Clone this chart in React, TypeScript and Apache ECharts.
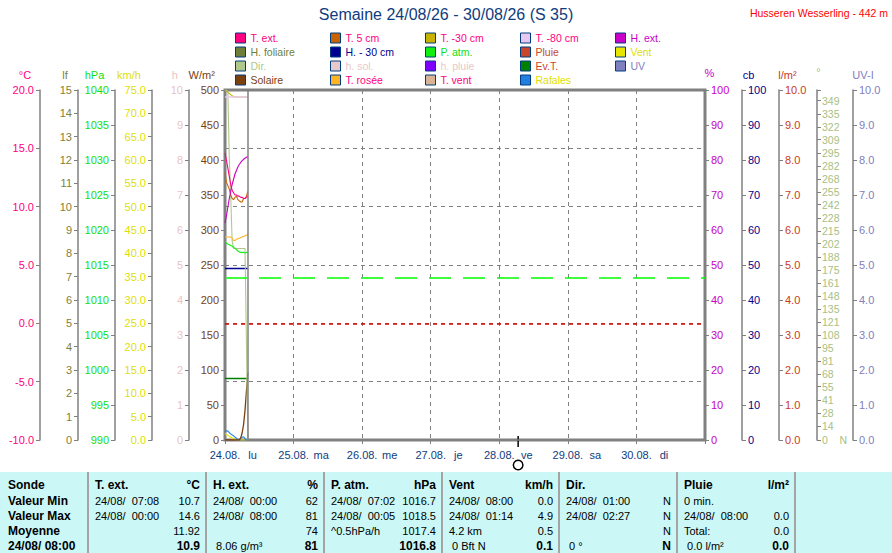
import React, { useEffect, useRef } from 'react';
import * as echarts from 'echarts';

const FONT = '"Liberation Sans", Arial, Helvetica, sans-serif';
const GRAY = '#808080';
const BLUE = '#0f3c7d';

// ---------- data ----------
// time in hours since 24.08. 00:00
const HOURS = [0, 0.5, 1, 1.5, 2, 2.5, 3, 3.5, 4, 4.5, 5, 5.5, 6, 6.5, 7, 7.5, 8];
const T_EXT = [14.6, 14.0, 13.3, 12.6, 11.9, 11.4, 11.2, 11.0, 11.0, 10.9, 10.9, 10.8, 10.8, 10.7, 10.7, 10.8, 10.9];
const T_5CM = [12.9, 12.1, 11.8, 11.5, 11.0, 10.7, 10.6, 10.8, 10.9, 10.6, 10.5, 10.4, 10.4, 10.7, 10.7, 10.9, 11.3];
const T_M30 = [20.0, 19.9, 19.8, 19.7, 19.6, 19.5, 19.45, 19.4, 19.4, 19.4, 19.4, 19.4, 19.4, 19.4, 19.4, 19.4, 19.4];
const T_M80 = [19.4, 19.4, 19.4, 19.4, 19.4, 19.4, 19.4, 19.4, 19.4, 19.4, 19.4, 19.4, 19.4, 19.4, 19.4, 19.4, 19.4];
const T_ROSEE = [7.4, 7.4, 7.4, 7.4, 7.4, 7.3, 7.1, 7.1, 7.2, 7.25, 7.3, 7.35, 7.4, 7.45, 7.5, 7.55, 7.65];
const H_EXT = [62, 64, 66.5, 69, 71, 73, 74.5, 76, 77, 78, 78.7, 79.3, 79.8, 80.2, 80.5, 80.8, 81];
const H_M30 = [49, 49, 49, 49, 49, 49, 49, 49, 49, 49, 49, 49, 49, 49, 49, 49, 49];
const P_ATM = [1018.4, 1018.1, 1018.0, 1017.9, 1017.8, 1017.7, 1017.5, 1017.4, 1017.2, 1017.0, 1016.9, 1016.8, 1016.8, 1016.8, 1016.7, 1016.8, 1016.8];
const EV_T = [1.76, 1.76, 1.76, 1.76, 1.76, 1.76, 1.76, 1.76, 1.76, 1.76, 1.76, 1.76, 1.76, 1.76, 1.76, 1.76, 1.76];
const VENT = [1.4, 1.2, 1.0, 0.8, 0.6, 0.45, 0.3, 0.1, 0, 0, 0, 0, 0, 0, 0, 0, 0.1];
const RAFALES = [1.8, 2.0, 1.9, 1.6, 1.3, 1.1, 0.9, 0.6, 0.4, 0.1, 0, 0.4, 0.6, 0.7, 0.3, 0, 0];
const DIR = [360, 360, 358, 290, 250, 205, 197, 197, 197, 197, 197, 197, 197, 197, 197, 100, 0];
const SOLAIRE = [0, 0, 0, 0, 0, 0, 0, 0, 0, 0, 0, 3, 10, 22, 42, 70, 96];
const EMPTY: number[] = [];

const DAY_DATES = ['24.08.', '25.08.', '26.08.', '27.08.', '28.08.', '29.08.', '30.08.'];
const DAY_NAMES = ['lu', 'ma', 'me', 'je', 've', 'sa', 'di'];
const DIR_TICKS = [0, 14, 28, 41, 55, 68, 81, 95, 108, 121, 135, 148, 161, 175, 188, 202, 215, 228, 242, 255, 268, 282, 295, 309, 322, 335, 349];
const STD_PRESSURE = 1013.25;
const FREEZING = 0;
const LAST_HOUR = 8;
const MARKER_HOUR = 102.6;

const TITLE = 'Semaine 24/08/26 - 30/08/26 (S 35)';
const STATION = 'Husseren Wesserling - 442 m';

const TABLE_ROW_LABELS = ['Sonde', 'Valeur Min', 'Valeur Max', 'Moyenne', '24/08/ 08:00'];
const TABLE_LEFT = [
  ['T. ext.', '24/08/\u00a0\u00a007:08', '24/08/\u00a0\u00a000:00', '', ''],
  ['H. ext.', '24/08/\u00a0\u00a000:00', '24/08/\u00a0\u00a008:00', '', '\u00a08.06 g/m³'],
  ['P. atm.', '24/08/\u00a0\u00a007:02', '24/08/\u00a0\u00a000:05', '^0.5hPa/h', ''],
  ['Vent', '24/08/\u00a0\u00a008:00', '24/08/\u00a0\u00a001:14', '4.2 km', '\u00a00 Bft N'],
  ['Dir.', '24/08/\u00a0\u00a001:00', '24/08/\u00a0\u00a002:27', '', '\u00a00 °'],
  ['Pluie', '0 min.', '24/08/\u00a0\u00a008:00', 'Total:', '\u00a00.0 l/m²'],
];
const TABLE_RIGHT = [
  ['°C', '10.7', '14.6', '11.92', '10.9'],
  ['%', '62', '81', '74', '81'],
  ['hPa', '1016.7', '1018.5', '1017.4', '1016.8'],
  ['km/h', '0.0', '4.9', '0.5', '0.1'],
  ['', 'N', 'N', 'N', 'N'],
  ['l/m²', '', '0.0', '0.0', '0.0'],
];

// ---------- styles ----------
const STYLE: Record<string, { c: string; t: string; w?: number }> = {
  'T. ext.': { c: '#ff0080', t: '#ff0080' },
  'T. 5 cm': { c: '#c86400', t: '#ff0080' },
  'T. -30 cm': { c: '#c8b400', t: '#ff0080' },
  'T. -80 cm': { c: '#e8c8f0', t: '#ff0080', w: 1.5 },
  'H. ext.': { c: '#c800c8', t: '#c800c8' },
  'H. foliaire': { c: '#6e7f3a', t: '#6e7f3a' },
  'H. - 30 cm': { c: '#000090', t: '#000090', w: 1.5 },
  'P. atm.': { c: '#10f010', t: '#10e010' },
  'Pluie': { c: '#c8462c', t: '#c8462c' },
  'Vent': { c: '#e6e600', t: '#e0e000' },
  'Dir.': { c: '#b0c88a', t: '#b0c88a' },
  'h. sol.': { c: '#e8c8c8', t: '#e8c8c8' },
  'h. pluie': { c: '#8000ff', t: '#e8c8c8' },
  'Ev.T.': { c: '#008000', t: '#c8462c', w: 1.5 },
  'UV': { c: '#8080c0', t: '#8080c0' },
  'Solaire': { c: '#7a4010', t: '#7a4010', w: 1.3 },
  'T. rosée': { c: '#ffb428', t: '#ff0080' },
  'T. vent': { c: '#d8b494', t: '#ff0080' },
  'Rafales': { c: '#2080e0', t: '#e0e000' },
};

const LEGEND_COLUMNS = [
  ['T. ext.', 'H. foliaire', 'Dir.', 'Solaire'],
  ['T. 5 cm', 'H. - 30 cm', 'h. sol.', 'T. rosée'],
  ['T. -30 cm', 'P. atm.', 'h. pluie', 'T. vent'],
  ['T. -80 cm', 'Pluie', 'Ev.T.', 'Rafales'],
  ['H. ext.', 'Vent', 'UV'],
];

// y axis indices
const AX = { wm2: 0, h: 1, kmh: 2, hpa: 3, lf: 4, c: 5, pct: 6, cb: 7, lm2: 8, deg: 9, uv: 10 };

const SERIES_DEFS: { name: string; data: number[]; axis: number }[] = [
  { name: 'H. foliaire', data: EMPTY, axis: AX.lf },
  { name: 'Pluie', data: EMPTY, axis: AX.lm2 },
  { name: 'h. sol.', data: EMPTY, axis: AX.h },
  { name: 'h. pluie', data: EMPTY, axis: AX.h },
  { name: 'UV', data: EMPTY, axis: AX.uv },
  { name: 'T. vent', data: EMPTY, axis: AX.c },
  { name: 'Ev.T.', data: EV_T, axis: AX.lm2 },
  { name: 'H. - 30 cm', data: H_M30, axis: AX.cb },
  { name: 'Vent', data: VENT, axis: AX.kmh },
  { name: 'Rafales', data: RAFALES, axis: AX.kmh },
  { name: 'Solaire', data: SOLAIRE, axis: AX.wm2 },
  { name: 'Dir.', data: DIR, axis: AX.deg },
  { name: 'T. -30 cm', data: T_M30, axis: AX.c },
  { name: 'T. -80 cm', data: T_M80, axis: AX.c },
  { name: 'P. atm.', data: P_ATM, axis: AX.hpa },
  { name: 'T. rosée', data: T_ROSEE, axis: AX.c },
  { name: 'T. 5 cm', data: T_5CM, axis: AX.c },
  { name: 'H. ext.', data: H_EXT, axis: AX.pct },
  { name: 'T. ext.', data: T_EXT, axis: AX.c },
];

const fmt1 = (v: number) => v.toFixed(1);
const fmt0 = (v: number) => String(Math.round(v));

function yAxis(position: 'left' | 'right', offset: number, min: number, max: number, interval: number, color: string, formatter: (v: number) => string, extra: any = {}) {
  return {
    type: 'value',
    position,
    offset,
    min,
    max,
    interval,
    axisLine: { show: true, lineStyle: { color: GRAY, width: 1.5 } },
    axisTick: { show: true, length: 4, lineStyle: { color: GRAY } },
    splitLine: { show: false },
    axisLabel: { color, fontSize: 11, fontFamily: FONT, margin: 6, formatter, showMinLabel: true, showMaxLabel: true },
    ...extra,
  };
}

function buildOption() {
  const series = SERIES_DEFS.map((d) => {
    const st = STYLE[d.name];
    const s: any = {
      type: 'line',
      name: d.name,
      yAxisIndex: d.axis,
      showSymbol: false,
      symbol: 'none',
      data: d.data.map((v, i) => [HOURS[i], v]),
      lineStyle: { color: st.c, width: st.w ?? 1.1 },
      itemStyle: { color: st.c },
      emphasis: { disabled: true },
    };
    if (d.name === 'T. ext.') {
      s.markLine = {
        silent: true,
        symbol: ['none', 'none'],
        label: { show: false },
        data: [
          { yAxis: FREEZING, lineStyle: { color: '#e00000', type: [4, 4], width: 1.5 } },
          { xAxis: LAST_HOUR, lineStyle: { color: GRAY, type: 'solid', width: 1.5 } },
        ],
      };
    }
    if (d.name === 'P. atm.') {
      s.markLine = {
        silent: true,
        symbol: ['none', 'none'],
        label: { show: false },
        data: [{ yAxis: STD_PRESSURE, lineStyle: { color: '#00ff00', type: [22, 12], width: 1.5 } }],
      };
    }
    return s;
  });

  const legend = LEGEND_COLUMNS.map((col, ci) => ({
    orient: 'vertical',
    left: 235 + ci * 95,
    top: 31,
    padding: 0,
    itemGap: 0,
    itemWidth: 10,
    itemHeight: 10,
    icon: 'rect',
    selectedMode: false,
    textStyle: { fontSize: 10.5, fontFamily: FONT, lineHeight: 14 },
    data: col.map((n) => ({
      name: n,
      icon: 'rect',
      itemStyle: { color: STYLE[n].c, borderColor: '#003c80', borderWidth: 1 },
      textStyle: { color: STYLE[n].t, fontSize: 10.5, fontFamily: FONT, lineHeight: 14 },
    })),
  }));

  return {
    animation: false,
    backgroundColor: '#ffffff',
    title: [
      { text: TITLE, left: 'center', top: 6, padding: 0, textStyle: { color: BLUE, fontSize: 16, fontWeight: 'normal', fontFamily: FONT } },
      { text: STATION, right: 4, top: 7, padding: 0, textStyle: { color: '#ff0000', fontSize: 10.5, fontWeight: 'normal', fontFamily: FONT } },
    ],
    legend,
    grid: { left: 225, right: 187, top: 90, bottom: 113, show: true, borderColor: GRAY, borderWidth: 3, backgroundColor: 'transparent' },
    xAxis: {
      type: 'value',
      min: 0,
      max: 168,
      interval: 24,
      axisLine: { show: true, lineStyle: { color: GRAY, width: 1.5 } },
      axisTick: { show: true, length: 4, lineStyle: { color: GRAY } },
      splitLine: { show: true, lineStyle: { color: GRAY, type: [4, 4], width: 1 } },
      axisLabel: {
        margin: 9,
        showMinLabel: true,
        showMaxLabel: true,
        hideOverlap: false,
        formatter: (v: number) => {
          const i = Math.round(v / 24);
          if (i >= DAY_DATES.length) return '';
          return `{s|\u00a0}{d|${DAY_DATES[i]}}{w|\u00a0\u00a0${DAY_NAMES[i]}}`;
        },
        rich: {
          s: { width: 19, fontSize: 11, fontFamily: FONT, color: BLUE },
          d: { width: 30, align: 'center', fontSize: 11, fontFamily: FONT, color: BLUE },
          w: { width: 19, align: 'left', fontSize: 11, fontFamily: FONT, color: BLUE },
        },
      },
    },
    yAxis: [
      yAxis('left', 0, 0, 500, 50, '#7a4010', fmt0),
      yAxis('left', 36, 0, 10, 1, '#e8c4c4', fmt0),
      yAxis('left', 73, 0, 75, 5, '#e0e000', fmt1),
      yAxis('left', 110, 990, 1040, 5, '#10e010', fmt0),
      yAxis('left', 147, 0, 15, 1, '#7f7f3a', fmt0),
      yAxis('left', 185, -10, 20, 5, '#ff0080', fmt1, {
        splitLine: { show: true, lineStyle: { color: GRAY, type: [4, 4], width: 1 } },
      }),
      yAxis('right', 0, 0, 100, 10, '#c800c8', fmt0),
      yAxis('right', 37, 0, 100, 10, '#000090', fmt0),
      yAxis('right', 74, 0, 10, 1, '#c83c20', fmt1),
      {
        type: 'value',
        position: 'right',
        offset: 112,
        min: 0,
        max: 360,
        axisLine: { show: true, lineStyle: { color: GRAY, width: 1.5 } },
        axisTick: { show: true, length: 4, lineStyle: { color: GRAY }, customValues: [...DIR_TICKS, 360] },
        splitLine: { show: false },
        axisLabel: {
          color: '#a8c084',
          fontSize: 10.5,
          fontFamily: FONT,
          margin: 5,
          customValues: DIR_TICKS,
          formatter: (v: number) => (v === 0 ? '0\u00a0\u00a0\u00a0\u00a0N' : String(v)),
        },
      },
      yAxis('right', 148, 0, 10, 1, '#8080c0', fmt1),
    ],
    series,
  };
}

const UNIT_LABELS = [
  { text: '°C', x: 25, y: 75, color: '#ff0080' },
  { text: 'lf', x: 65, y: 75, color: '#7f7f3a' },
  { text: 'hPa', x: 94.5, y: 75, color: '#10e010' },
  { text: 'km/h', x: 129, y: 75, color: '#e0e000' },
  { text: 'h', x: 174.7, y: 75, color: '#e8c4c4' },
  { text: 'W/m²', x: 201.7, y: 75, color: '#7a4010' },
  { text: '%', x: 709.5, y: 73, color: '#c800c8' },
  { text: 'cb', x: 748.5, y: 75, color: '#000090' },
  { text: 'l/m²', x: 787.5, y: 75, color: '#c83c20' },
  { text: '°', x: 818.5, y: 72, color: '#a8c084' },
  { text: 'UV-I', x: 863, y: 75, color: '#8080c0' },
];

const TABLE_TOP = 472;
const TABLE_BG = '#cbf8f7';
const SEP_X = [88, 206, 324, 442, 559, 677, 795];
const ROW_Y = [485, 500.5, 516, 531, 546];

function txt(x: number, y: number, text: string, color: string, size: number, bold: boolean, align: string) {
  return {
    type: 'text',
    x,
    y,
    silent: true,
    style: {
      text,
      fill: color,
      fontSize: size,
      fontWeight: bold ? 'bold' : 'normal',
      fontFamily: FONT,
      align,
      verticalAlign: 'middle',
      textAlign: align,
      textVerticalAlign: 'middle',
    },
  };
}

function buildGraphic(markerX: number) {
  const els: any[] = [];
  UNIT_LABELS.forEach((u) => els.push(txt(u.x, u.y, u.text, u.color, 11, false, 'center')));
  els.push({ type: 'line', silent: true, shape: { x1: markerX, y1: 436, x2: markerX, y2: 447 }, style: { stroke: '#000', lineWidth: 1.5 } });
  els.push({ type: 'circle', silent: true, shape: { cx: markerX, cy: 465, r: 4.8 }, style: { fill: 'none', stroke: '#000', lineWidth: 1.5 } });
  els.push({ type: 'rect', silent: true, z: -1, shape: { x: 0, y: TABLE_TOP, width: 892, height: 553 - TABLE_TOP }, style: { fill: TABLE_BG } });
  SEP_X.forEach((x) =>
    els.push({ type: 'line', silent: true, shape: { x1: x, y1: TABLE_TOP, x2: x, y2: 553 }, style: { stroke: '#a4a4a4', lineWidth: 2 } })
  );
  TABLE_ROW_LABELS.forEach((t, r) => els.push(txt(8, ROW_Y[r], t, '#000', 12, true, 'left')));
  TABLE_LEFT.forEach((col, c) => {
    col.forEach((t, r) => {
      if (t) els.push(txt(SEP_X[c] + 7, ROW_Y[r], t, '#000', r === 0 ? 12 : 11, r === 0, 'left'));
    });
  });
  TABLE_RIGHT.forEach((col, c) => {
    col.forEach((t, r) => {
      if (t) els.push(txt(SEP_X[c + 1] - 6, ROW_Y[r], t, '#000', r === 0 || r === 4 ? 12 : 11, r === 0 || r === 4, 'right'));
    });
  });
  return els;
}

export default function App() {
  const ref = useRef<HTMLDivElement>(null);
  useEffect(() => {
    if (!ref.current) return;
    const chart = echarts.init(ref.current, null, { renderer: 'svg' });
    chart.setOption(buildOption() as any);
    let mx = chart.convertToPixel({ xAxisIndex: 0 } as any, MARKER_HOUR) as unknown as number;
    if (typeof mx !== 'number' || isNaN(mx)) mx = 518;
    chart.setOption({ graphic: buildGraphic(mx) } as any);
    return () => chart.dispose();
  }, []);
  return (
    <div
      ref={ref}
      style={{ position: 'fixed', left: 0, top: 0, width: 892, height: 553, background: '#fff' }}
    />
  );
}
